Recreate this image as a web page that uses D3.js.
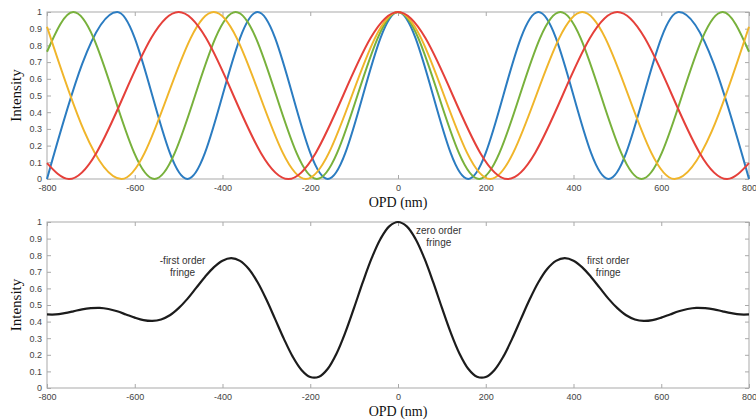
<!DOCTYPE html>
<html>
<head>
<meta charset="utf-8">
<script src="https://cdn.jsdelivr.net/npm/d3@7"></script>
<style>
  body { margin: 0; background: #fff; }
  svg { display: block; }
  .tick text { font-family: "Liberation Sans", Arial, sans-serif; font-size: 9px; fill: #444; }
</style>
</head>
<body>
<svg id="chart" width="756" height="420"></svg>
<script>
// Single-wavelength fringes: [OPD (nm), intensity] at the extrema of each curve
const blueFringe = [[-800,0],[-640,1],[-480,0],[-320,1],[-160,0],[0,1],[160,0],[320,1],[480,0],[640,1],[800,0]];
const greenFringe = [[-800,0.762],[-740,1],[-555,0],[-370,1],[-185,0],[0,1],[185,0],[370,1],[555,0],[740,1],[800,0.762]];
const yellowFringe = [[-800,0.912],[-630,0],[-420,1],[-210,0],[0,1],[210,0],[420,1],[630,0],[800,0.912]];
const redFringe = [[-800,0.095],[-750,0],[-500,1],[-250,0],[0,1],[250,0],[500,1],[750,0],[800,0.095]];

// Summed (white-light) fringe, sampled every 20 nm
const sumOPD = [-800,-780,-760,-740,-720,-700,-680,-660,-640,-620,-600,-580,-560,-540,-520,-500,-480,-460,-440,-420,-400,-380,-360,-340,-320,-300,-280,-260,-240,-220,-200,-180,-160,-140,-120,-100,-80,-60,-40,-20,
  0,20,40,60,80,100,120,140,160,180,200,220,240,260,280,300,320,340,360,380,400,420,440,460,480,500,520,540,560,580,600,620,640,660,680,700,720,740,760,780,800];
const sumIntensity = [0.443,0.443,0.451,0.462,0.474,0.481,0.483,0.476,0.462,0.443,0.424,0.409,0.404,0.413,0.438,0.481,0.537,0.603,0.669,0.727,0.767,0.782,0.766,0.717,0.637,0.533,0.415,0.296,0.189,0.109,0.066,0.068,0.116,0.208,0.335,0.484,0.639,0.782,0.898,0.974,
  1.000,0.974,0.898,0.782,0.639,0.484,0.335,0.208,0.116,0.068,0.066,0.109,0.189,0.296,0.415,0.533,0.637,0.717,0.766,0.782,0.767,0.727,0.669,0.603,0.537,0.481,0.438,0.413,0.404,0.409,0.424,0.443,0.462,0.476,0.483,0.481,0.474,0.462,0.451,0.443,0.443];

const xTicks = [-800,-600,-400,-200,0,200,400,600,800];
const yTicks = [0,0.1,0.2,0.3,0.4,0.5,0.6,0.7,0.8,0.9,1];

const fringeSeries = [
  { name: "blue", color: "#2b7cc1", data: blueFringe },
  { name: "green", color: "#78b13c", data: greenFringe },
  { name: "yellow", color: "#f0b52a", data: yellowFringe },
  { name: "red", color: "#e5403a", data: redFringe }
];

const annotations = [
  { x: -491, y: 0.748, lines: ["-first order", "fringe"] },
  { x: 93, y: 0.928, lines: ["zero order", "fringe"] },
  { x: 479, y: 0.748, lines: ["first order", "fringe"] }
];

const svg = d3.select("#chart");
const left = 47, right = 749;
const x = d3.scaleLinear().domain([-800, 800]).range([left, right]);

function drawPanel(top, bottom) {
  const y = d3.scaleLinear().domain([0, 1]).range([bottom, top]);
  const g = svg.append("g");
  const fmtX = d => String(d);
  const fmtY = d => String(+d.toFixed(1));

  // frame
  g.append("rect").attr("x", left).attr("y", top)
    .attr("width", right - left).attr("height", bottom - top)
    .attr("fill", "none").attr("stroke", "#a9a9a9").attr("stroke-width", 1);

  const axB = g.append("g").attr("transform", `translate(0,${bottom})`)
    .call(d3.axisBottom(x).tickValues(xTicks).tickFormat(fmtX).tickSize(-4).tickPadding(6));
  const axT = g.append("g").attr("transform", `translate(0,${top})`)
    .call(d3.axisTop(x).tickValues(xTicks).tickFormat("").tickSize(-4));
  const axL = g.append("g").attr("transform", `translate(${left},0)`)
    .call(d3.axisLeft(y).tickValues(yTicks).tickFormat(fmtY).tickSize(-4).tickPadding(7));
  const axR = g.append("g").attr("transform", `translate(${right},0)`)
    .call(d3.axisRight(y).tickValues(yTicks).tickFormat("").tickSize(-4));
  [axB, axT, axL, axR].forEach(a => {
    a.select(".domain").remove();
    a.selectAll(".tick line").attr("stroke", "#a9a9a9");
  });
  axL.selectAll(".tick text").attr("dx", 2);

  // axis titles
  g.append("text").attr("x", 398).attr("y", bottom + 28)
    .attr("text-anchor", "middle")
    .style("font-family", "'Liberation Serif', 'Times New Roman', serif")
    .style("font-size", "14px").attr("fill", "#111").text("OPD (nm)");
  g.append("text")
    .attr("transform", `translate(21,${(top + bottom) / 2}) rotate(-90)`)
    .attr("text-anchor", "middle")
    .style("font-family", "'Liberation Serif', 'Times New Roman', serif")
    .style("font-size", "15px").attr("fill", "#111").text("Intensity");
  return { g, y };
}

// Top panel: individual wavelength fringes
const p1 = drawPanel(12, 179);
const line1 = d3.line().x(d => x(d[0])).y(d => p1.y(d[1])).curve(d3.curveMonotoneX);
p1.g.selectAll(".fringe").data(fringeSeries).join("path")
  .attr("class", "fringe")
  .attr("d", s => line1(s.data))
  .attr("fill", "none").attr("stroke", s => s.color).attr("stroke-width", 2);

// Bottom panel: summed fringe
const p2 = drawPanel(222, 388);
const sumData = sumOPD.map((o, i) => [o, sumIntensity[i]]);
const line2 = d3.line().x(d => x(d[0])).y(d => p2.y(d[1])).curve(d3.curveCatmullRom);
p2.g.append("path").attr("d", line2(sumData))
  .attr("fill", "none").attr("stroke", "#1c1c1c").attr("stroke-width", 2.2);

annotations.forEach(a => {
  const t = p2.g.append("text")
    .attr("x", x(a.x)).attr("y", p2.y(a.y))
    .attr("text-anchor", "middle")
    .style("font-family", "'Liberation Sans', Arial, sans-serif")
    .style("font-size", "10px").attr("fill", "#333");
  a.lines.forEach((l, i) => t.append("tspan").attr("x", x(a.x)).attr("dy", i ? 12 : 0).text(l));
});
</script>
</body>
</html>
